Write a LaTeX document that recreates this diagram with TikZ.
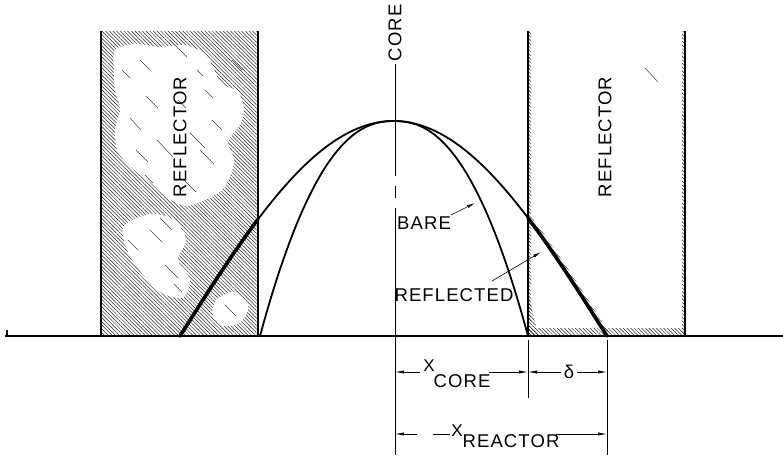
\documentclass[tikz,border=0pt]{standalone}
\usepackage{fontspec}
\setmainfont{Liberation Sans}[LetterSpace=6]
\usetikzlibrary{arrows.meta,patterns.meta}
\begin{document}
\begin{tikzpicture}[x=1pt,y=-1pt,
  lbl/.style={font=\fontsize{18.5}{18.5}\selectfont, inner sep=0pt},
  xlbl/.style={font=\fontsize{17}{17}\selectfont, inner sep=0pt},
  dimarrow/.style={-{Latex[length=9pt,width=3.2pt]}, line width=0.7pt},
  ptr/.style={-{Latex[length=8pt,width=3pt]}, line width=0.6pt},
  hatch/.style={pattern={Lines[angle=-45,distance=2.6pt,line width=0.5pt]}, pattern color=black!85},
  blob/.style={fill=white, draw=none},
  stray/.style={line width=0.5pt, black!75},
  curve/.style={line width=1.8pt, line join=round},
  thickcurve/.style={line width=3.6pt, line cap=round},
  edge/.style={line width=2.2pt},
  thinedge/.style={line width=1.4pt}]
\useasboundingbox (0,0) rectangle (783,455);

% ---------- left reflector ----------
\fill[hatch] (101,31) rectangle (258,336);
\fill[blob] plot[smooth cycle] coordinates {(115,50) (135,44) (160,47) (185,45) (205,54) (214,70) (222,84) (238,92) (244,110) (239,126) (228,142) (234,162) (224,188) (205,200) (185,206) (165,196) (150,182) (134,170) (118,152) (115,130) (120,110) (115,90) (114,70)};
\fill[blob] plot[smooth cycle] coordinates {(124,226) (150,214) (174,220) (186,240) (178,260) (190,280) (182,298) (160,292) (141,272) (127,250)};
\fill[blob] plot[smooth cycle] coordinates {(216,300) (234,292) (248,305) (241,322) (223,326) (213,315)};
\foreach \a/\b/\c/\d in {170/40/187/57, 190/133/205/148, 157/140/173/157, 140/60/150/70, 130/118/141/130, 200/150/214/164, 205/90/213/98, 150/230/162/242, 165/265/178/278, 120/185/135/200, 225/305/236/316, 178/100/186/108, 122/70/130/78, 146/96/158/108, 212/120/222/130, 136/150/148/162, 184/180/196/192, 128/240/138/250, 160/218/172/230, 174/284/182/292, 232/60/242/70, 197/70/203/76, 145/175/153/183}
  \draw[stray] (\a,\b) -- (\c,\d);
\draw[edge] (101,31) -- (101,336);
\draw[edge] (258,31) -- (258,336);

% ---------- right reflector ----------
\fill[hatch] (528,31) rectangle (531,336);
\fill[hatch] (682,31) rectangle (685,336);
\fill[hatch] (528,328) rectangle (685,336);
\fill[hatch] (528,290) -- (538,336) -- (528,336) -- cycle;
\fill[hatch] plot[domain=528:607,samples=30] (\x,{336-215*cos((\x-393.5)*0.421546)}) -- (611,336) -- plot[domain=607:532,samples=30] (\x,{336-215*cos((\x-397.5)*0.421546)}) -- cycle;
\draw[stray] (645,68) -- (658,82);
\draw[thinedge] (528,31) -- (528,336);
\draw[edge] (685,31) -- (685,336);

% ---------- baseline and centre line ----------
\coordinate (b0) at (5,336);
\coordinate (b1) at (783,336);
\coordinate (tk) at (7,330);
\draw[line width=1.5pt] (tk) -- (7,336) -- (b1);
\draw[line width=1.5pt] (b0) -- (7,336);

\node[lbl, rotate=90] (core) at (395,33) {CORE};
\coordinate (cl1) at (395,64);
\coordinate (cl2) at (395,118);
\coordinate (cl3) at (395,455);
\draw[line width=0.8pt] (cl1) -- (cl2);
\draw[line width=0.8pt, dash pattern=on 58pt off 10pt on 12pt off 10pt on 400pt] (cl2) -- (cl3);

% ---------- flux curves ----------
\draw[curve] plot[domain=258:528,samples=120] (\x,{336-215*cos((\x-393.5)*0.421546)});
\draw[thickcurve] plot[domain=180:258,samples=40] (\x,{336-215*cos((\x-393.5)*0.421546)});
\draw[thickcurve] plot[domain=528:607,samples=40] (\x,{336-215*cos((\x-393.5)*0.421546)});
\draw[curve] plot[domain=260:528,samples=121] (\x,{336-215*(1-(abs(\x-394.01)/134)^2.3)});

% ---------- labels ----------
\node[lbl, rotate=90] (refl1) at (180,137) {REFLECTOR};
\node[lbl, rotate=90] (refl2) at (605,137) {REFLECTOR};
\node[lbl] (bare) at (424,223) {BARE};
\node[lbl] (reflected) at (454,295) {REFLECTED};
\coordinate (bareTail) at (451,215);
\coordinate (bareTip) at (475,203);
\draw[ptr] (bareTail) -- (bareTip);
\coordinate (refTail) at (492,281);
\coordinate (refTip) at (541,252);
\draw[ptr] (refTail) -- (refTip);

% ---------- dimensions ----------
\coordinate (e1a) at (528,340);
\coordinate (e1b) at (528,398);
\coordinate (e2a) at (607,340);
\coordinate (e2b) at (607,455);
\draw[line width=0.8pt] (e1a) -- (e1b);
\draw[line width=0.8pt] (e2a) -- (e2b);

\node[xlbl] (xc) at (429,366) {X};
\node[lbl] (xcsub) at (462,381) {CORE};
\coordinate (xcL) at (395,372);
\coordinate (xcLi) at (420,372);
\coordinate (xcRi) at (489,372);
\coordinate (xcR) at (528,372);
\draw[dimarrow] (xcLi) -- (xcL);
\draw[dimarrow] (xcRi) -- (xcR);

\node[lbl] (delta) at (569,372) {δ};
\coordinate (dLi) at (561,372);
\coordinate (dRi) at (577,372);
\coordinate (dR) at (607,372);
\draw[dimarrow] (dLi) -- (xcR);
\draw[dimarrow] (dRi) -- (dR);

\node[xlbl] (xr) at (457,431) {X};
\node[lbl] (xrsub) at (511,441) {REACTOR};
\coordinate (xrL) at (395,434);
\coordinate (xrLi) at (417,434);
\coordinate (xrM1) at (433,434);
\coordinate (xrM2) at (450,434);
\coordinate (xrRi) at (556,434);
\coordinate (xrR) at (607,434);
\draw[dimarrow] (xrLi) -- (xrL);
\draw[line width=0.7pt] (xrM1) -- (xrM2);
\draw[dimarrow] (xrRi) -- (xrR);
\end{tikzpicture}
\end{document}
